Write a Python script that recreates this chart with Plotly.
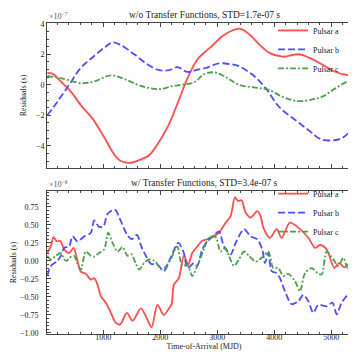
import plotly.graph_objects as go
from plotly.subplots import make_subplots

# top panel (units of 1e-7 s)
t_wo_a = [20, 110, 257, 433, 608, 813, 1018, 1193, 1310, 1485, 1661, 1807, 1953, 2129, 2304, 2480, 2655, 2800,
          2912, 3088, 3263, 3409, 3556, 3731, 3906, 4140, 4433, 4608, 4842, 5076, 5339, 5500]
res_wo_a = [0.78, 0.73, 0.22, -0.45, -1.33, -2.22, -3.44, -4.56, -5.0, -5.11, -4.89, -4.62, -3.89, -2.78, -1.22,
            0.44, 1.67, 2.2, 2.56, 3.18, 3.56, 3.67, 3.33, 2.67, 2.11, 1.84, 2.0, 1.78, 1.33, 0.84, 0.62, 0.78]
t_wo_b = [20, 199, 404, 608, 842, 1047, 1164, 1310, 1544, 1778, 1983, 2158, 2304, 2480, 2655, 2800, 3029, 3230,
          3380, 3614, 3848, 4082, 4374, 4608, 4813, 5076, 5251, 5500]
res_wo_b = [-2.0, -1.11, 0.0, 1.11, 1.89, 2.51, 2.78, 2.6, 2.0, 1.33, 0.96, 0.96, 1.16, 0.84, 1.0, 1.1, 1.4, 1.35,
            1.22, 0.67, -0.22, -1.44, -2.33, -3.0, -3.56, -3.62, -3.33, -2.0]
t_wo_c = [20, 257, 608, 842, 1135, 1369, 1661, 1983, 2187, 2363, 2567, 2650, 2750, 2942, 3146, 3380, 3673, 3906,
          4140, 4403, 4667, 4842, 5076, 5310, 5500]
res_wo_c = [0.56, 0.44, 0.11, 0.22, 0.62, 0.38, -0.07, -0.29, -0.11, 0.0, 0.11, 0.3, 0.65, 0.82, 0.51, 0.0,
            -0.18, -0.33, -0.78, -1.07, -0.96, -0.78, -0.22, 0.27, 0.51]

# bottom panel (units of 1e-6 s)
t_w_a = [20, 82, 129, 187, 246, 316, 404, 480, 550, 608, 696, 784, 842, 901, 959, 1047, 1135, 1222, 1298, 1415,
         1515, 1661, 1749, 1850, 1950, 2064, 2152, 2200, 2240, 2327, 2415, 2491, 2561, 2649, 2737, 2825, 2912,
         3000, 3076, 3146, 3234, 3310, 3368, 3427, 3497, 3585, 3702, 3760, 3807, 3924, 4041, 4128, 4275, 4450,
         4597, 4714, 4801, 4918, 5053, 5135, 5228, 5310, 5415, 5474]
res_w_a = [0.11, 0.20, 0.33, 0.27, 0.28, 0.16, 0.11, 0.18, 0.0, -0.15, -0.18, -0.26, -0.24, -0.33, -0.49, -0.58,
           -0.72, -0.86, -0.88, -0.72, -0.83, -0.66, -0.77, -0.92, -0.61, -0.75, -0.66, -0.6, -0.33, -0.24, 0.07,
           -0.05, 0.11, 0.20, 0.28, 0.30, 0.34, 0.37, 0.44, 0.53, 0.62, 0.88, 0.83, 0.84, 0.67, 0.60, 0.69, 0.62,
           0.46, 0.32, 0.44, 0.32, 0.53, 0.44, 0.32, 0.18, 0.22, 0.16, -0.10, -0.03, -0.09, -0.04, -0.12, 0.09]
t_w_b = [20, 82, 199, 257, 316, 404, 462, 550, 667, 784, 842, 930, 1006, 1076, 1205, 1310, 1415, 1497, 1591,
         1673, 1749, 1837, 1950, 2064, 2181, 2316, 2415, 2474, 2591, 2649, 2737, 2825, 2912, 3029, 3117, 3234,
         3322, 3468, 3585, 3702, 3789, 3836, 3895, 3953, 4041, 4099, 4187, 4304, 4421, 4509, 4597, 4684, 4772,
         4918, 5018, 5094, 5181, 5298, 5386, 5500]
res_w_b = [-0.21, -0.07, 0.0, 0.07, 0.18, 0.20, 0.34, 0.27, 0.34, 0.39, 0.56, 0.47, 0.48, 0.65, 0.71, 0.55, 0.37,
           0.30, 0.36, 0.19, 0.07, -0.04, -0.05, -0.14, 0.04, 0.25, 0.11, -0.10, -0.03, -0.07, 0.16, 0.27, 0.33,
           0.41, 0.20, 0.09, 0.25, 0.44, 0.34, 0.30, 0.16, -0.03, 0.11, -0.14, -0.17, -0.24, -0.42, -0.60, -0.56,
           -0.47, -0.56, -0.72, -0.61, -0.63, -0.58, -0.74, -0.58, -0.47, -0.51, -0.33]
t_w_c = [20, 82, 170, 257, 316, 362, 404, 491, 550, 608, 696, 784, 842, 930, 1018, 1088, 1164, 1251, 1339, 1427,
         1497, 1573, 1632, 1719, 1807, 1900, 2035, 2181, 2298, 2386, 2474, 2561, 2649, 2766, 2854, 2971, 3058,
         3140, 3205, 3293, 3380, 3468, 3556, 3673, 3789, 3895, 3982, 4070, 4158, 4245, 4363, 4450, 4538, 4655,
         4760, 4830, 4918, 5035, 5123, 5210, 5287, 5357, 5433, 5500]
res_w_c = [0.07, 0.02, 0.07, 0.11, 0.02, 0.0, 0.04, 0.07, -0.04, -0.12, 0.13, 0.07, 0.06, 0.11, 0.16, 0.39, 0.25,
           0.13, 0.19, 0.07, 0.09, -0.04, -0.12, -0.03, 0.02, 0.0, -0.12, 0.02, 0.20, -0.07, -0.05, -0.21, -0.07,
           0.16, 0.32, 0.33, 0.13, 0.18, 0.07, -0.07, 0.02, 0.13, 0.07, -0.01, 0.05, 0.13, -0.10, -0.10, -0.21,
           -0.18, -0.28, -0.42, -0.17, -0.10, -0.17, -0.19, 0.13, 0.02, -0.07, 0.04, -0.10, 0.16, 0.09, 0.13]

names = ['Pulsar a', 'Pulsar b', 'Pulsar c']
colors = ['rgb(255,77,77)', 'rgb(77,77,255)', 'rgb(77,160,77)']
dashes = ['solid', '7px,3px', '6px,2px,2px,2px']
FONT = 'Liberation Serif'
TXT = '#222'

fig = make_subplots(rows=2, cols=1, shared_xaxes=True)

top = [(t_wo_a, res_wo_a), (t_wo_b, res_wo_b), (t_wo_c, res_wo_c)]
bot = [(t_w_a, res_w_a), (t_w_b, res_w_b), (t_w_c, res_w_c)]
for i, (t, r) in enumerate(top):
    fig.add_trace(go.Scatter(x=t, y=r, mode='lines', name=names[i], legend='legend',
                             line=dict(color=colors[i], width=1.8, dash=dashes[i], shape='spline')), row=1, col=1)
for i, (t, r) in enumerate(bot):
    fig.add_trace(go.Scatter(x=t, y=r, mode='lines', name=names[i], legend='legend2',
                             line=dict(color=colors[i], width=1.8, dash=dashes[i], shape='spline', smoothing=0.8)),
                  row=2, col=1)

axis_style = dict(showline=True, mirror='ticks', linecolor='#444', linewidth=1, ticks='inside', ticklen=4,
                  tickcolor='#444', showgrid=False, zeroline=False, tickfont=dict(family=FONT, size=8, color=TXT))
fig.update_xaxes(**axis_style, range=[15, 5520], dtick=1000, tick0=0, ticklabelstandoff=-5,
                 minor=dict(ticks='inside', ticklen=2, dtick=200, tickcolor='#444'))
fig.update_xaxes(showticklabels=False, row=1, col=1)
fig.update_xaxes(title=dict(text='Time-of-Arrival (MJD)', font=dict(family=FONT, size=8, color=TXT),
                            standoff=0), row=2, col=1)
fig.update_yaxes(**axis_style)
fig.update_yaxes(range=[-5.45, 4.05], dtick=2, tick0=0, minor=dict(ticks='inside', ticklen=2, dtick=0.5,
                 tickcolor='#444'), domain=[0.534, 1.0],
                 title=dict(text='Residuals (s)', font=dict(family=FONT, size=8, color=TXT), standoff=8),
                 row=1, col=1)
fig.update_yaxes(range=[-1.014, 0.97], dtick=0.25, tick0=0, tickformat='.2f', ticklabelstandoff=6,
                 minor=dict(ticks='inside', ticklen=2, dtick=0.05, tickcolor='#444'), domain=[0, 0.46],
                 title=dict(text='Residuals (s)', font=dict(family=FONT, size=8, color=TXT), standoff=2),
                 row=2, col=1)

ann_font = dict(family=FONT, size=9.5, color=TXT)
fig.add_annotation(text='w/o Transfer Functions, STD=1.7e-07 s', xref='paper', yref='paper', x=0.5, y=1.0,
                   yshift=1, xanchor='center', yanchor='bottom', showarrow=False, font=ann_font)
fig.add_annotation(text='w/ Transfer Functions, STD=3.4e-07 s', xref='paper', yref='paper', x=0.5, y=0.46,
                   yshift=1, xanchor='center', yanchor='bottom', showarrow=False, font=ann_font)
fig.add_annotation(text='×10<sup>−7</sup>', xref='paper', yref='paper', x=0, y=1.0, yshift=0,
                   xanchor='left', yanchor='bottom', showarrow=False, font=dict(family=FONT, size=8, color='#555'))
fig.add_annotation(text='×10<sup>−6</sup>', xref='paper', yref='paper', x=0, y=0.46, yshift=0,
                   xanchor='left', yanchor='bottom', showarrow=False, font=dict(family=FONT, size=8, color='#555'))

leg = dict(xanchor='left', yanchor='middle', x=0.72, bgcolor='rgba(255,255,255,0)',
           font=dict(family=FONT, size=8, color=TXT), tracegroupgap=0, itemwidth=30)
fig.update_layout(
    width=356, height=352, margin=dict(l=39, r=3, t=15, b=26),
    plot_bgcolor='white', paper_bgcolor='white',
    legend=dict(leg, y=0.915),
    legend2=dict(leg, y=0.39),
)

fig.write_html("out.html")
